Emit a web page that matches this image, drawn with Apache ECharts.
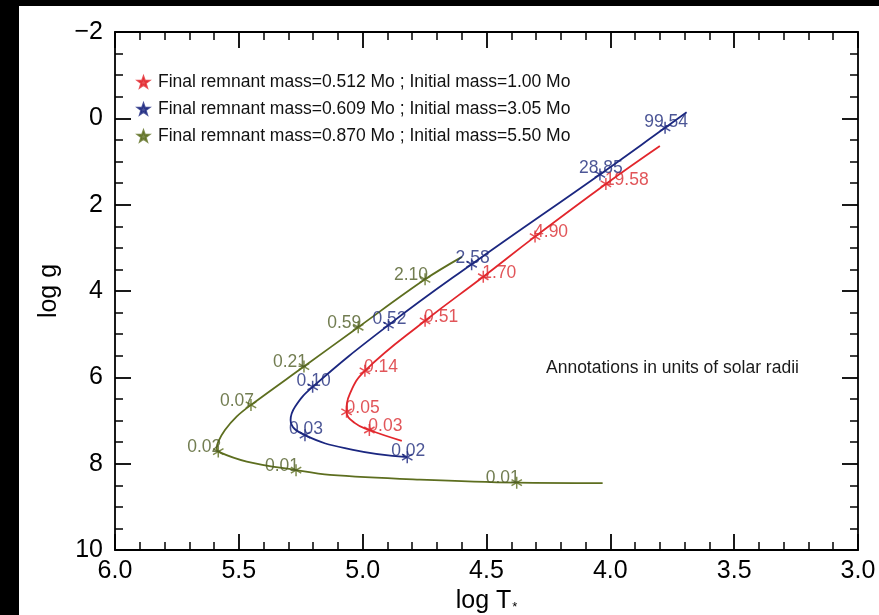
<!DOCTYPE html>
<html>
<head>
<meta charset="utf-8">
<script src="https://cdn.jsdelivr.net/npm/echarts@6/dist/echarts.min.js"></script>
<style>
  html, body { margin: 0; padding: 0; background: #000; }
  #chart { position: absolute; left: 19px; top: 6px; width: 860px; height: 609px; background: #fff; }
</style>
</head>
<body>
<div id="chart"></div>
<script>
// Post-AGB evolutionary tracks in the (log T*, log g) plane.
// Each model: a continuous track plus starred points labelled with the stellar radius (R_sun).

const xTicks = { min: 3.0, max: 6.0, step: 0.5 };
const yTicks = { min: -2, max: 10, step: 2 };

const modelNames = [
  'Final remnant mass=0.512 Mo ; Initial mass=1.00 Mo',
  'Final remnant mass=0.609 Mo ; Initial mass=3.05 Mo',
  'Final remnant mass=0.870 Mo ; Initial mass=5.50 Mo'
];

// 0.512 Mo track
const trackT1 = [3.800, 4.018, 4.304, 4.513, 4.748, 4.991, 5.051, 5.065, 5.031, 4.973, 4.842];
const trackG1 = [0.64, 1.52, 2.74, 3.67, 4.69, 5.85, 6.37, 6.80, 7.06, 7.22, 7.47];
const markT1 = [4.018, 4.304, 4.513, 4.748, 4.991, 5.065, 4.973];
const markG1 = [1.52, 2.74, 3.67, 4.69, 5.85, 6.80, 7.22];
const radii1 = ['19.58', '4.90', '1.70', '0.51', '0.14', '0.05', '0.03'];

// 0.609 Mo track
const trackT2 = [3.692, 3.779, 4.042, 4.560, 4.896, 5.202, 5.273, 5.291, 5.233, 5.039, 4.820];
const trackG2 = [-0.14, 0.22, 1.30, 3.38, 4.79, 6.22, 6.68, 6.99, 7.34, 7.68, 7.85];
const markT2 = [3.779, 4.042, 4.560, 4.896, 5.202, 5.233, 4.820];
const markG2 = [0.22, 1.30, 3.38, 4.79, 6.22, 7.34, 7.85];
const radii2 = ['99.54', '28.85', '2.58', '0.52', '0.10', '0.03', '0.02'];

// 0.870 Mo track
const trackT3 = [4.599, 4.748, 5.018, 5.237, 5.451, 5.509, 5.556, 5.583, 5.589, 5.583, 5.468, 5.269, 5.132, 4.769, 4.378, 4.031];
const trackG3 = [3.21, 3.73, 4.84, 5.75, 6.64, 6.91, 7.22, 7.49, 7.64, 7.72, 7.95, 8.15, 8.26, 8.37, 8.44, 8.45];
const markT3 = [4.748, 5.018, 5.237, 5.451, 5.583, 5.269, 4.378];
const markG3 = [3.73, 4.84, 5.75, 6.64, 7.72, 8.15, 8.44];
const radii3 = ['2.10', '0.59', '0.21', '0.07', '0.02', '0.01', '0.01'];

const lineColors = ['#e2262c', '#1b2780', '#5d6e1f'];
const labelColors = ['#d92a30', '#1f2c7c', '#4f5c26'];

const FONT = '"Liberation Sans", Arial, Helvetica, sans-serif';
const ASTERISK = 'path://M0,-5L0,5M-4.33,-2.5L4.33,2.5M-4.33,2.5L4.33,-2.5';
const STAR = 'path://M0,-10L2.35,-3.24L9.51,-3.09L3.8,1.24L5.88,8.09L0,4L-5.88,8.09L-3.8,1.24L-9.51,-3.09L-2.35,-3.24Z';

function zip(xs, ys) { return xs.map((x, i) => [x, ys[i]]); }
function points(xs, ys, names) { return xs.map((x, i) => ({ value: [x, ys[i]], name: names[i] })); }

const tracks = [[trackT1, trackG1], [trackT2, trackG2], [trackT3, trackG3]];
const marks = [[markT1, markG1, radii1], [markT2, markG2, radii2], [markT3, markG3, radii3]];
// label placement per model: red to the right, blue centred above, green to the left
const labelAlign = [
  { align: 'left', offset: [-1, -4] },
  { align: 'center', offset: [1, -6] },
  { align: 'right', offset: [3, -4] }
];

const series = [];
tracks.forEach((t, k) => {
  series.push({
    type: 'line',
    data: zip(t[0], t[1]),
    showSymbol: false,
    smooth: k === 2 ? 0.35 : 0.45,
    silent: true,
    z: 2,
    lineStyle: { color: lineColors[k], width: 1.8 }
  });
});
marks.forEach((m, k) => {
  series.push({
    name: modelNames[k],
    type: 'scatter',
    data: points(m[0], m[1], m[2]),
    symbol: ASTERISK,
    symbolKeepAspect: true,
    symbolSize: 12,
    z: 3,
    itemStyle: { color: lineColors[k], borderColor: lineColors[k], borderWidth: 1.5 },
    label: {
      show: true,
      position: 'inside',
      formatter: '{b}',
      align: labelAlign[k].align,
      verticalAlign: 'middle',
      offset: labelAlign[k].offset,
      color: labelColors[k],
      fontSize: 17.5,
      fontFamily: FONT
    }
  });
});

function axisCommon() {
  return {
    type: 'value',
    axisLine: { show: true, onZero: false, lineStyle: { color: '#000', width: 1.8 } },
    axisTick: { show: true, inside: true, length: 16, lineStyle: { color: '#000', width: 1.8 } },
    minorTick: { show: true, length: 8, lineStyle: { color: '#000', width: 1.5 } },
    splitLine: { show: false },
    minorSplitLine: { show: false }
  };
}

const xBase = () => Object.assign(axisCommon(), {
  min: xTicks.min, max: xTicks.max, interval: xTicks.step, inverse: true
});
const yBase = () => Object.assign(axisCommon(), {
  min: yTicks.min, max: yTicks.max, interval: yTicks.step, inverse: true
});

const xBottom = xBase();
xBottom.position = 'bottom';
xBottom.minorTick.splitNumber = 5;
xBottom.axisLabel = { color: '#000', fontSize: 25, fontFamily: FONT, margin: 9, formatter: v => v.toFixed(1) };
xBottom.name = 'log T{s|*}';
xBottom.nameLocation = 'middle';
xBottom.nameGap = 35;
xBottom.nameTextStyle = {
  color: '#000', fontSize: 25, fontFamily: FONT, verticalAlign: 'top',
  rich: { s: { fontSize: 13, fontFamily: FONT, color: '#000', padding: [12, 0, 0, 1] } }
};

const xTop = xBase();
xTop.position = 'top';
xTop.minorTick.splitNumber = 5;
xTop.axisLabel = { show: false };

const yLeft = yBase();
yLeft.position = 'left';
yLeft.minorTick.splitNumber = 4;
yLeft.axisLabel = { color: '#000', fontSize: 25, fontFamily: FONT, margin: 12, formatter: v => (v < 0 ? '\u2212' + Math.abs(v) : String(v)) };
yLeft.name = 'log g';
yLeft.nameLocation = 'middle';
yLeft.nameGap = 53;
yLeft.nameRotate = 90;
yLeft.nameTextStyle = { color: '#000', fontSize: 25, fontFamily: FONT };

const yRight = yBase();
yRight.position = 'right';
yRight.minorTick.splitNumber = 4;
yRight.axisLabel = { show: false };

const chart = echarts.init(document.getElementById('chart'), null, { renderer: 'canvas' });
chart.setOption({
  animation: false,
  backgroundColor: '#fff',
  grid: { left: 96, top: 26, right: 21, bottom: 65, outerBoundsMode: 'none', containLabel: false },
  xAxis: [xBottom, xTop],
  yAxis: [yLeft, yRight],
  legend: {
    orient: 'vertical',
    left: 113,
    top: 62,
    padding: 5,
    itemWidth: 11,
    itemHeight: 11,
    itemGap: 9,
    icon: STAR,
    selectedMode: false,
    data: modelNames,
    textStyle: { color: '#111', fontSize: 17.5, fontFamily: FONT, padding: [0, 0, 0, 4] }
  },
  graphic: [{
    type: 'text',
    left: 527,
    top: 353,
    style: { text: 'Annotations in units of solar radii', fill: '#1a1a1a', font: '17.5px ' + FONT }
  }],
  series: series
});
</script>
</body>
</html>
